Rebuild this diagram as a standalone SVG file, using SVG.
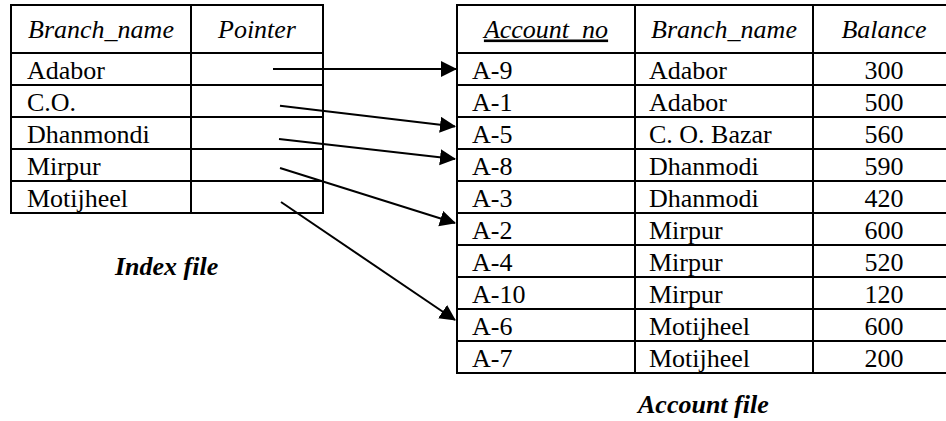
<svg xmlns="http://www.w3.org/2000/svg" width="946" height="421" viewBox="0 0 946 421">
  <style>
    .grid { fill: none; stroke: #000; stroke-width: 2; }
    .rule { stroke: #000; stroke-width: 2; }
    text { font-family: "Liberation Serif", "Times New Roman", serif; font-size: 26px; fill: #000; }
    .hd { font-style: italic; text-anchor: middle; }
    .num { text-anchor: middle; }
    .cap { font-style: italic; font-weight: bold; }
    .link { stroke: #000; stroke-width: 2; fill: none; marker-end: url(#head); }
  </style>
  <defs>
    <marker id="head" markerUnits="userSpaceOnUse" markerWidth="18" markerHeight="18" refX="15" refY="8" orient="auto">
      <path d="M0,0 L16,8 L0,16 Z" fill="#000"/>
    </marker>
  </defs>
  <rect width="946" height="421" fill="#fff"/>

  <!-- index table: Branch_name / Pointer -->
  <g id="index-table">
    <rect class="grid" x="11" y="5" width="312" height="208"/>
    <line class="rule" x1="191" y1="5" x2="191" y2="213"/>
    <line class="rule" x1="11" y1="53" x2="323" y2="53"/>
    <line class="rule" x1="11" y1="85" x2="323" y2="85"/>
    <line class="rule" x1="11" y1="117" x2="323" y2="117"/>
    <line class="rule" x1="11" y1="149" x2="323" y2="149"/>
    <line class="rule" x1="11" y1="181" x2="323" y2="181"/>
    <text class="hd" x="101" y="37.5">Branch_name</text>
    <text class="hd" x="257" y="37.5">Pointer</text>
    <text x="27" y="78.5">Adabor</text>
    <text x="27" y="110.5">C.O.</text>
    <text x="27" y="142.5">Dhanmondi</text>
    <text x="27" y="174.5">Mirpur</text>
    <text x="27" y="206.5">Motijheel</text>
  </g>

  <!-- account table: Account_no / Branch_name / Balance -->
  <g id="account-table">
    <rect class="grid" x="457" y="5" width="498" height="368"/>
    <line class="rule" x1="635" y1="5" x2="635" y2="373"/>
    <line class="rule" x1="813" y1="5" x2="813" y2="373"/>
    <line class="rule" x1="457" y1="53" x2="955" y2="53"/>
    <line class="rule" x1="457" y1="85" x2="955" y2="85"/>
    <line class="rule" x1="457" y1="117" x2="955" y2="117"/>
    <line class="rule" x1="457" y1="149" x2="955" y2="149"/>
    <line class="rule" x1="457" y1="181" x2="955" y2="181"/>
    <line class="rule" x1="457" y1="213" x2="955" y2="213"/>
    <line class="rule" x1="457" y1="245" x2="955" y2="245"/>
    <line class="rule" x1="457" y1="277" x2="955" y2="277"/>
    <line class="rule" x1="457" y1="309" x2="955" y2="309"/>
    <line class="rule" x1="457" y1="341" x2="955" y2="341"/>
    <text class="hd" x="546" y="37.5" text-decoration="underline">Account_no</text>
    <text class="hd" x="724" y="37.5">Branch_name</text>
    <text class="hd" x="884" y="37.5">Balance</text>

    <text x="472" y="78.5">A-9</text><text x="649" y="78.5">Adabor</text><text class="num" x="884" y="78.5">300</text>
    <text x="472" y="110.5">A-1</text><text x="649" y="110.5">Adabor</text><text class="num" x="884" y="110.5">500</text>
    <text x="472" y="142.5">A-5</text><text x="649" y="142.5">C. O. Bazar</text><text class="num" x="884" y="142.5">560</text>
    <text x="472" y="174.5">A-8</text><text x="649" y="174.5">Dhanmodi</text><text class="num" x="884" y="174.5">590</text>
    <text x="472" y="206.5">A-3</text><text x="649" y="206.5">Dhanmodi</text><text class="num" x="884" y="206.5">420</text>
    <text x="472" y="238.5">A-2</text><text x="649" y="238.5">Mirpur</text><text class="num" x="884" y="238.5">600</text>
    <text x="472" y="270.5">A-4</text><text x="649" y="270.5">Mirpur</text><text class="num" x="884" y="270.5">520</text>
    <text x="472" y="302.5">A-10</text><text x="649" y="302.5">Mirpur</text><text class="num" x="884" y="302.5">120</text>
    <text x="472" y="334.5">A-6</text><text x="649" y="334.5">Motijheel</text><text class="num" x="884" y="334.5">600</text>
    <text x="472" y="366.5">A-7</text><text x="649" y="366.5">Motijheel</text><text class="num" x="884" y="366.5">200</text>
  </g>

  <!-- pointers from index entries to account records -->
  <g id="connectors">
    <line class="link" x1="273" y1="69" x2="456" y2="69"/>
    <line class="link" x1="280" y1="105.7" x2="455" y2="126.5"/>
    <line class="link" x1="279" y1="139" x2="455" y2="159"/>
    <line class="link" x1="280" y1="168" x2="455" y2="223"/>
    <line class="link" x1="281" y1="202" x2="455" y2="320"/>
  </g>

  <g id="captions">
    <text class="cap" x="115" y="275">Index file</text>
    <text class="cap" x="638" y="413">Account file</text>
  </g>
</svg>
